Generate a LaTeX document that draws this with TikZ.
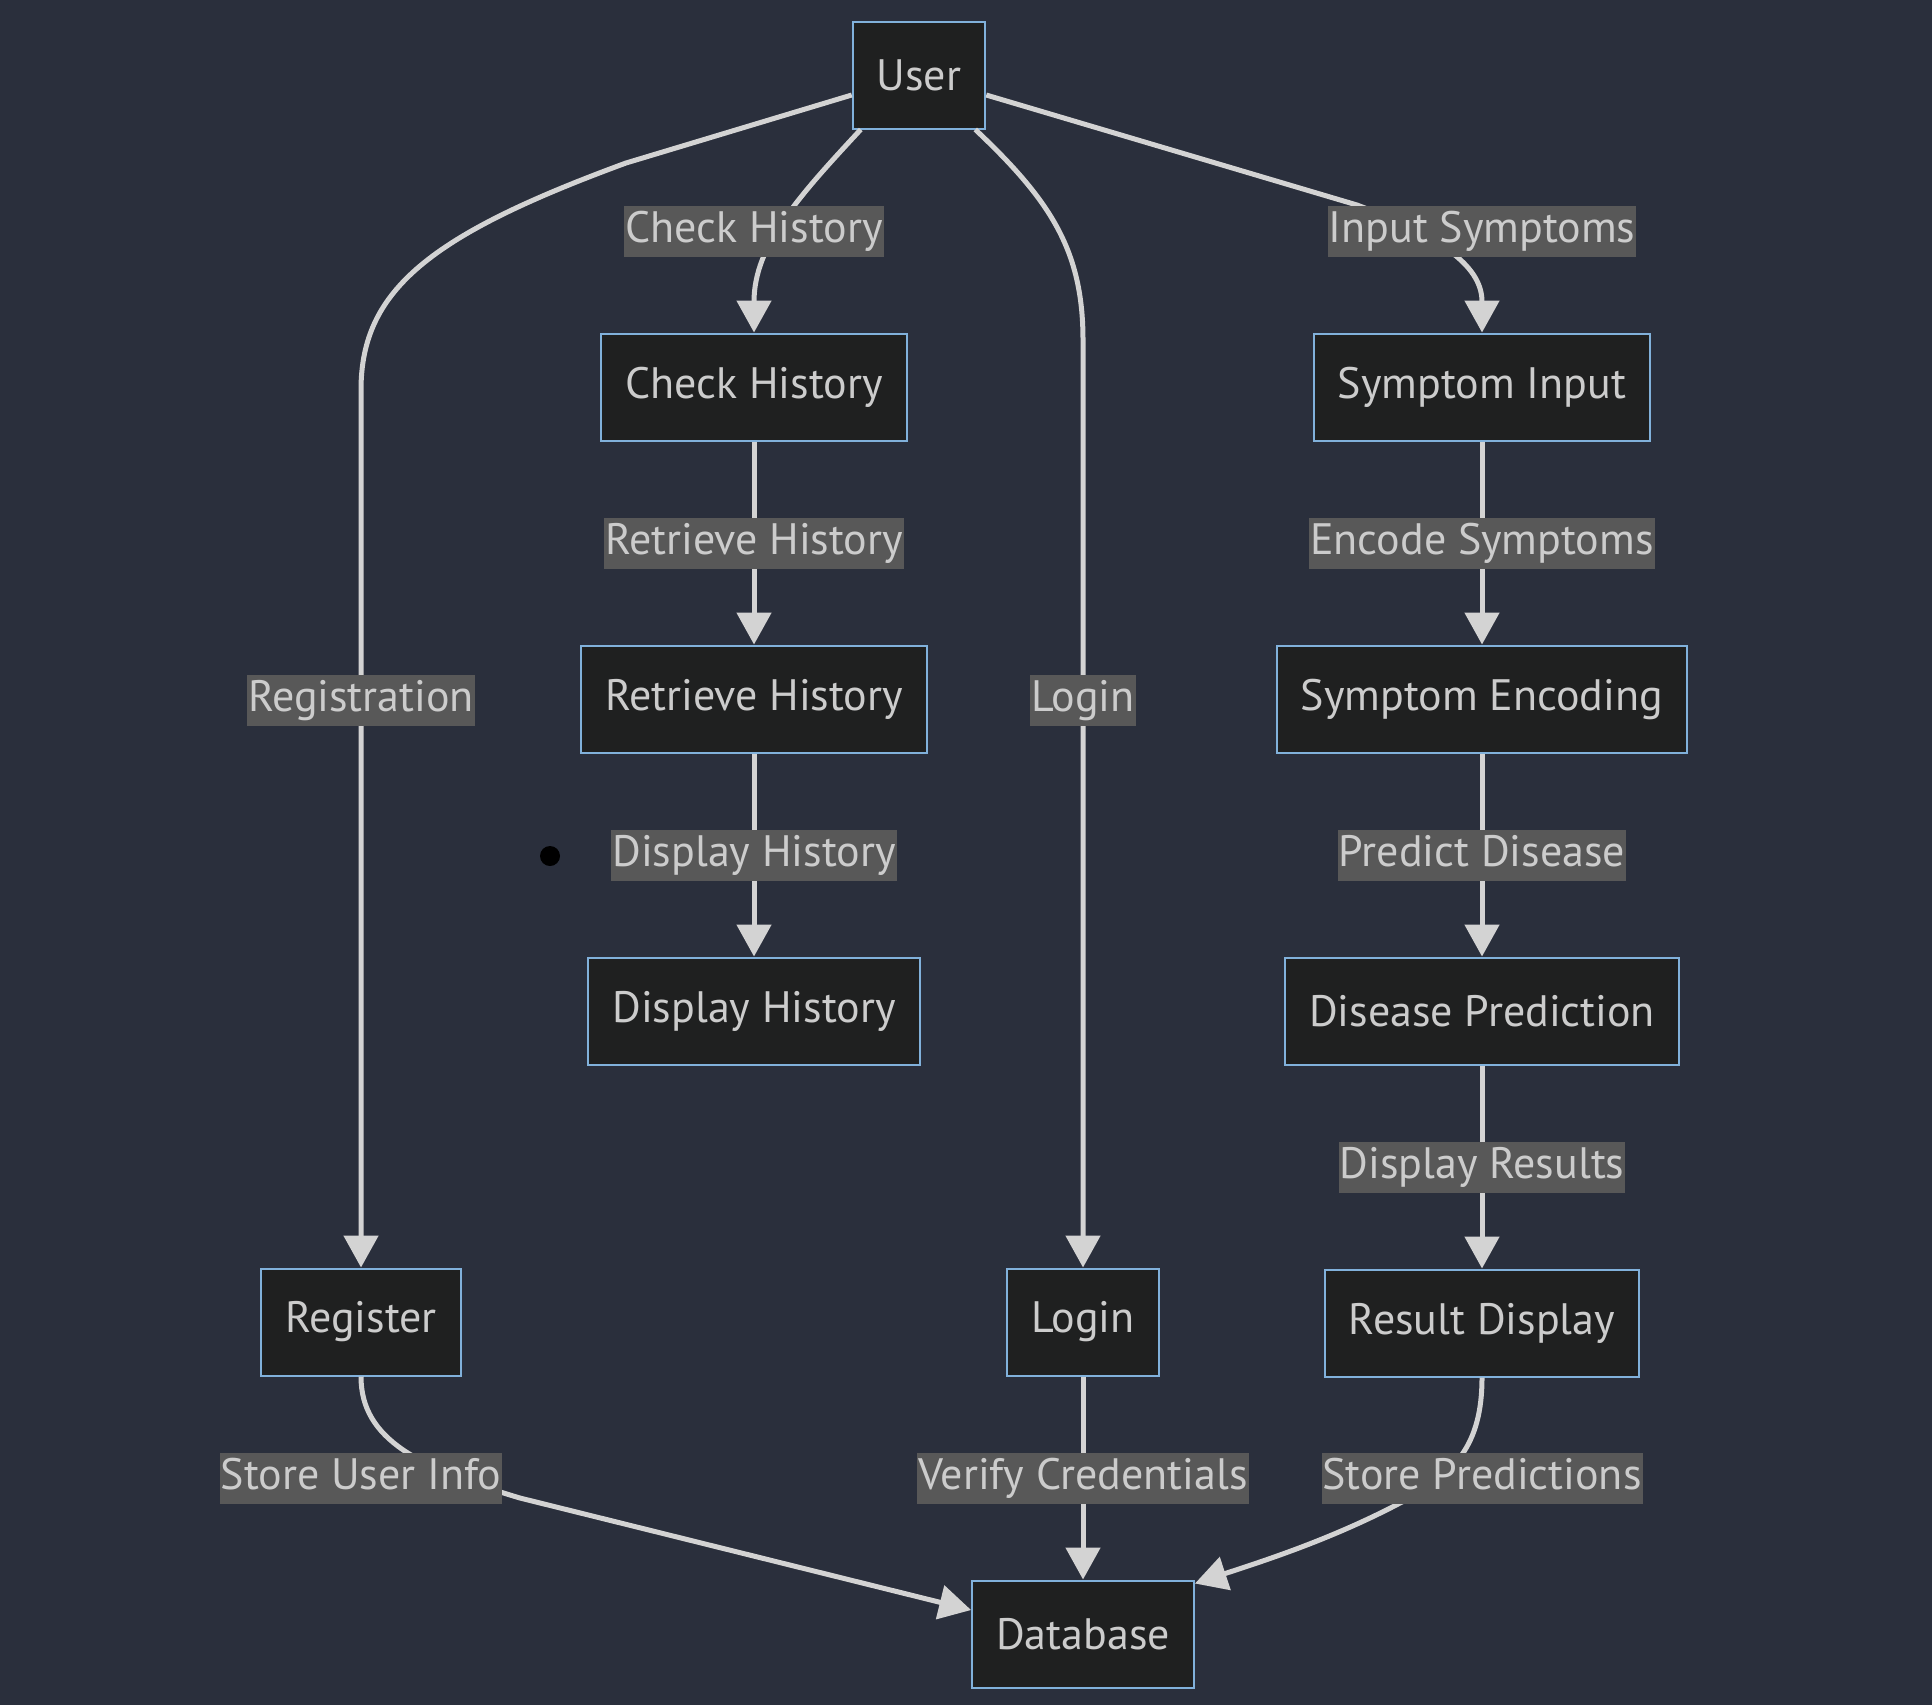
\documentclass[tikz,border=0pt]{standalone}
\usepackage{fontspec}
\setmainfont{PT Sans}
\usetikzlibrary{arrows.meta,
                positioning}
\definecolor{bgdark}{HTML}{2A2F3C}
\definecolor{nodefill}{HTML}{1F2020}
\definecolor{nodeline}{HTML}{81B1DB}
\definecolor{nodetext}{HTML}{CCCCCC}
\definecolor{flowline}{HTML}{D3D3D3}
\definecolor{labelfill}{HTML}{585858}
\tikzset{proc/.style =
   {rectangle,
    draw=nodeline,
    line width=1pt,
    fill=nodefill,
    text=nodetext,
    text centered,
    inner xsep=12pt,
    minimum height=53.5pt,
    font=\fontsize{22}{26}\selectfont}}
\tikzset{elabel/.style =
   {rectangle,
    fill=labelfill,
    text=nodetext,
    inner xsep=0.5pt,
    inner ysep=1.75pt,
    text height=16.5pt,
    text depth=5.5pt,
    font=\fontsize{22}{26}\selectfont}}
\tikzset{flow/.style = {draw=flowline, line width=2.5pt, -{Triangle[width=17pt,length=16pt]}}}
\begin{document}
\begin{tikzpicture}[x=0.5pt, y=-0.5pt, node distance=101.5pt]
    \fill[bgdark] (0,0) rectangle (1932,1705);

    \node [proc] (user) at (919,75) {User};

    \node [proc] (chk) at (754,387) {Check History};
    \node [proc, below = of chk] (rtv) {Retrieve History};
    \node [proc, below = of rtv] (dsp) {Display History};

    \node [proc] (sin) at (1482,387) {Symptom Input};
    \node [proc, below = of sin] (enc) {Symptom Encoding};
    \node [proc, below = of enc] (pred) {Disease Prediction};
    \node [proc, below = of pred] (res) {Result Display};

    \node [proc] (reg) at (361,1322) {Register};
    \node [proc] (login) at (1083,1322) {Login};
    \node [proc] (db) at (1083,1634) {Database};

    \node [circle, fill=black, inner sep=0pt, minimum size=10pt] (dot) at (550,856) {};

    % from the user
    \draw[flow] ([yshift=-10pt]user.west) -- (626,163)
        .. controls (430,235) and (361,290) .. (361,390) -- (reg);
    \draw[flow] ([xshift=4.5pt]user.south west)
        .. controls (800,195) and (754,245) .. (chk);
    \draw[flow] ([xshift=-5.5pt]user.south east)
        .. controls (1050,200) and (1083,250) .. (1083,340) -- (login);
    \draw[flow] ([yshift=-10pt]user.east) -- (1357,205)
        .. controls (1450,240) and (1482,270) .. (sin);

    % chains
    \draw[flow] (chk) -- node[elabel] (lrtv) {Retrieve History} (rtv);
    \draw[flow] (rtv) -- node[elabel] (ldsp) {Display History} (dsp);
    \draw[flow] (sin) -- node[elabel] (lenc) {Encode Symptoms} (enc);
    \draw[flow] (enc) -- node[elabel] (lpred) {Predict Disease} (pred);
    \draw[flow] (pred) -- node[elabel] (lres) {Display Results} (res);

    % into the database
    \draw[flow] (reg) .. controls (361,1440) and (420,1468) .. (520,1498)
        -- ([yshift=12pt]db.west);
    \draw[flow] (login) -- node[elabel] (lver) {Verify Credentials} (db);
    \draw[flow] (res) .. controls (1482,1445) and (1455,1475) .. (1400,1503)
        .. controls (1330,1540) and (1260,1562) .. ([yshift=-2pt]db.north east);

    % labels on the curved edges
    \node[elabel] (lchk) at (754,231) {Check History};
    \node[elabel] (lsin) at (1482,231) {Input Symptoms};
    \node[elabel] (lreg) at (361,700) {Registration};
    \node[elabel] (llog) at (1083,700) {Login};
    \node[elabel] (lsui) at (361,1478) {Store User Info};
    \node[elabel] (lspr) at (1482,1478) {Store Predictions};
\end{tikzpicture}
\end{document}
